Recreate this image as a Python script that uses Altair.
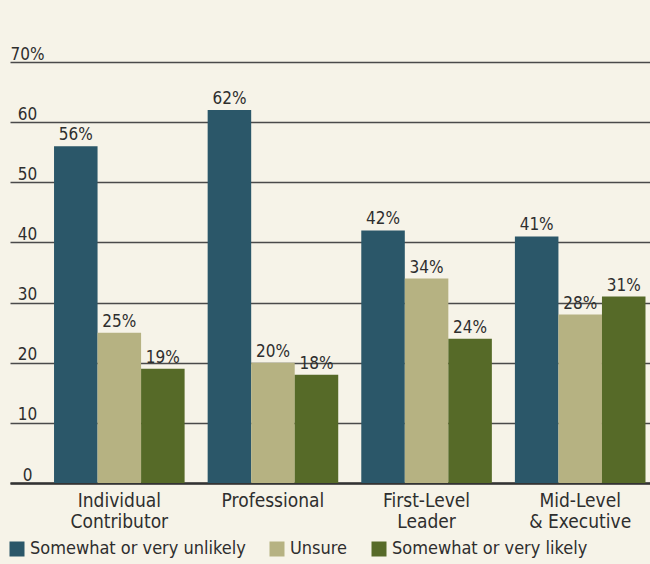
import altair as alt
import pandas as pd

# ---- data ----
groups = ["Individual\nContributor", "Professional", "First-Level\nLeader", "Mid-Level\n& Executive"]
series = ["Somewhat or very unlikely", "Unsure", "Somewhat or very likely"]
unlikely = [56, 62, 42, 41]
unsure = [25, 20, 34, 28]
likely = [19, 18, 24, 31]
colors = ["#2b5769", "#b6b282", "#566a28"]
y_ticks = [0, 10, 20, 30, 40, 50, 60, 70]

rows = []
for s, vals in zip(series, [unlikely, unsure, likely]):
    for g, v in zip(groups, vals):
        rows.append({"group": g, "series": s, "value": v, "label": f"{v}%"})
df = pd.DataFrame(rows)

FONT = "DejaVu Sans Condensed, Liberation Sans Narrow, sans-serif"
TXT = "#2e2e2e"

x_enc = alt.X(
    "group:N",
    sort=groups,
    title=None,
    scale=alt.Scale(paddingInner=0.15, paddingOuter=0.158, align=0.907),
    axis=alt.Axis(
        labelAngle=0,
        labelExpr="split(datum.label, '\\n')",
        labelFont=FONT,
        labelFontSize=19,
        labelLineHeight=21,
        labelColor=TXT,
        labelPadding=8,
        labelBaseline="top",
        labelLimit=300,
        ticks=False,
        tickSize=0,
        domain=True,
        domainColor="#333333",
        domainWidth=2.5,
        grid=False,
    ),
)
xoff = alt.XOffset("series:N", sort=series)
y_enc = alt.Y(
    "value:Q",
    title=None,
    scale=alt.Scale(domain=[0, 70], nice=False),
    axis=alt.Axis(
        values=y_ticks,
        labelExpr="datum.value == 70 ? '70%' : datum.label",
        labelFont=FONT,
        labelFontSize=17,
        labelColor=TXT,
        labelAlign="center",
        labelBaseline="alphabetic",
        labelPadding=-17,
        labelOffset=-3,
        labelFlush=False,
        ticks=False,
        tickSize=0,
        domain=False,
        grid=True,
        gridColor="#4a4a4a",
        gridWidth=1.5,
        gridOpacity=1,
    ),
)

bars = alt.Chart(df).mark_bar().encode(
    x=x_enc,
    xOffset=xoff,
    y=y_enc,
    color=alt.Color(
        "series:N",
        sort=series,
        scale=alt.Scale(domain=series, range=colors),
        legend=alt.Legend(
            title=None,
            orient="none",
            legendX=-2,
            legendY=478,
            direction="horizontal",
            columnPadding=22,
            labelFont=FONT,
            labelFontSize=18,
            labelColor=TXT,
            labelOffset=4,
            labelLimit=400,
            symbolType="square",
            symbolSize=225,
            symbolStrokeWidth=0,
            symbolOpacity=1,
        ),
    ),
)

text = alt.Chart(df).mark_text(
    font=FONT, fontSize=17, color=TXT, baseline="alphabetic", dy=-6
).encode(
    x=alt.X("group:N", sort=groups),
    xOffset=xoff,
    y="value:Q",
    text="label:N",
)

chart = (
    alt.layer(bars, text)
    .properties(
        width=640,
        height=421,
        background="#f6f3e8",
        padding={"left": 10, "top": 62, "right": 0, "bottom": 81},
        autosize=alt.AutoSizeParams(type="none"),
    )
    .configure_view(stroke=None)
)

chart.save("out.html", embed_options={"renderer": "svg", "actions": False})
